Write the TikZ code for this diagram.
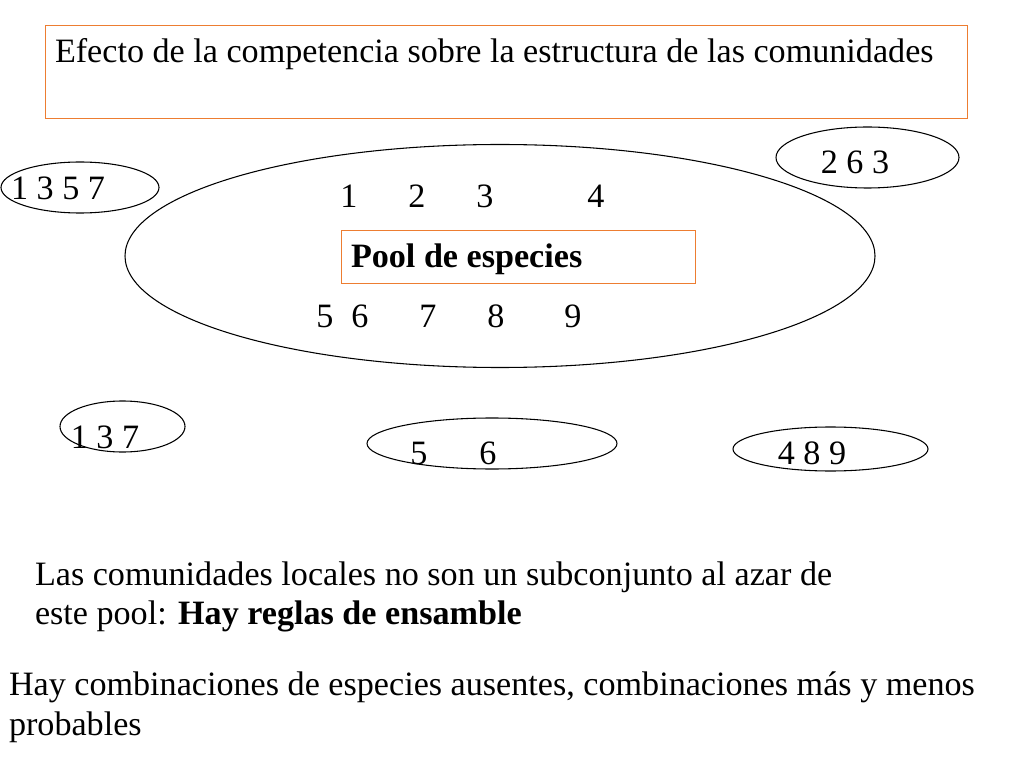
\documentclass[tikz,border=0pt]{standalone}
\usepackage{fontspec}
\setmainfont{Liberation Serif}
\definecolor{boxorange}{RGB}{237,125,49}
\begin{document}
\begin{tikzpicture}[x=0.703125pt,y=-0.703125pt,
  txt/.style={inner sep=0pt,outer sep=0pt,font=\fontsize{24}{28}\selectfont},
  obox/.style={draw=boxorange,line width=1pt},
  oval/.style={draw=black,line width=0.75pt}]
\useasboundingbox[fill=white] (0,0) rectangle (1024,768);
% title
\node[obox,minimum width=922*0.703125pt,minimum height=93*0.703125pt,inner sep=0pt,anchor=north west] (title) at (45,25) {};
\node[txt,anchor=base west] (titletxt) at (55,63) {Efecto de la competencia sobre la estructura de las comunidades};
% big pool ellipse
\draw[oval] (500,256) ellipse [x radius=375, y radius=111.5];
\node[txt,anchor=base] (n1) at (349,208) {1};
\node[txt,anchor=base] (n2) at (417,208) {2};
\node[txt,anchor=base] (n3) at (485,208) {3};
\node[txt,anchor=base] (n4) at (596,208) {4};
\node[txt,anchor=base] (n5) at (325,328) {5};
\node[txt,anchor=base] (n6) at (360,328) {6};
\node[txt,anchor=base] (n7) at (428,328) {7};
\node[txt,anchor=base] (n8) at (496,328) {8};
\node[txt,anchor=base] (n9) at (573,328) {9};
% pool box
\node[obox,minimum width=354*0.703125pt,minimum height=53*0.703125pt,inner sep=0pt,anchor=north west] (pool) at (341,230) {};
\node[txt,anchor=base west,font=\fontsize{24}{28}\selectfont\bfseries] (pooltxt) at (351,268) {Pool de especies};
% small community ellipses
\draw[oval] (80,187.5) ellipse [x radius=79, y radius=25.5];
\node[txt,anchor=base] (c1) at (58,200) {1 3 5 7};
\draw[oval] (867.5,157.5) ellipse [x radius=91.5, y radius=30.5];
\node[txt,anchor=base] (c2) at (855,174) {2 6 3};
\draw[oval] (122.5,426.5) ellipse [x radius=62.5, y radius=25.5];
\node[txt,anchor=base] (c3) at (105,448) {1 3 7};
\draw[oval] (492,443.5) ellipse [x radius=125, y radius=25.5];
\node[txt,anchor=base] (c4a) at (419,464) {5};
\node[txt,anchor=base] (c4b) at (488,464) {6};
\draw[oval] (830.5,449) ellipse [x radius=97.5, y radius=22];
\node[txt,anchor=base] (c5) at (812,464) {4 8 9};
% bottom text
\node[txt,anchor=base west] (l1) at (35,585) {Las comunidades locales no son un subconjunto al azar de};
\node[txt,anchor=base west] (l2) at (35,624) {este pool: \textbf{Hay reglas de ensamble}};
\node[txt,anchor=base west] (l3) at (9,695) {Hay combinaciones de especies ausentes, combinaciones más y menos};
\node[txt,anchor=base west] (l4) at (9,735) {probables};
\end{tikzpicture}
\end{document}
